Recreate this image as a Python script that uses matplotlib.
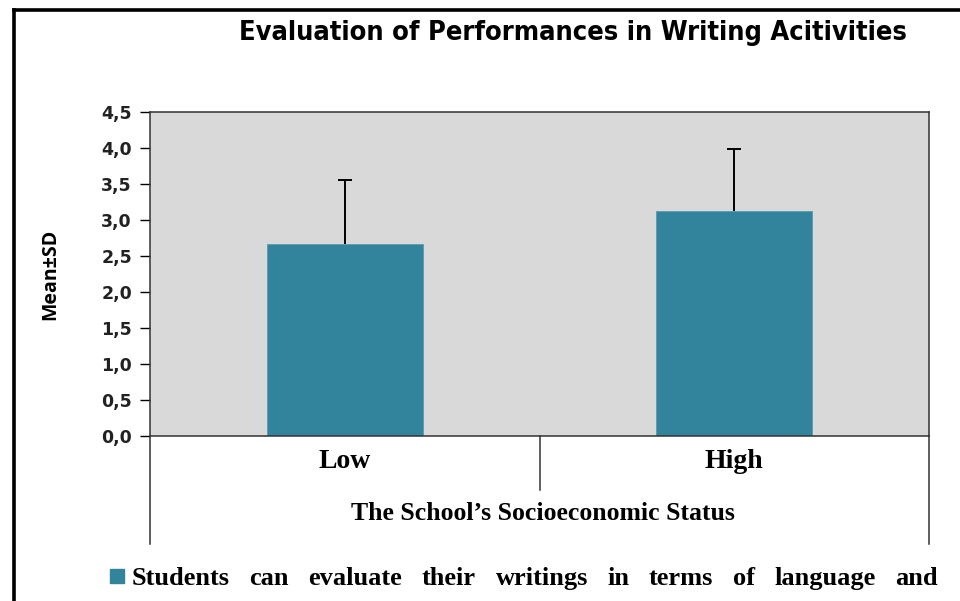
import matplotlib; matplotlib.use("Agg")
import matplotlib.pyplot as plt
import matplotlib.transforms as mtransforms
from matplotlib.patches import Rectangle
from matplotlib.lines import Line2D

categories = ["Low", "High"]
means = [2.67, 3.13]
sds = [0.88, 0.86]
yticks = [0.0, 0.5, 1.0, 1.5, 2.0, 2.5, 3.0, 3.5, 4.0, 4.5]
ytick_labels = ["0,0", "0,5", "1,0", "1,5", "2,0", "2,5", "3,0", "3,5", "4,0", "4,5"]
legend_words = "Students can evaluate their writings in terms of language and".split()

W, H = 960, 601
fig = plt.figure(figsize=(9.6, 6.01), dpi=100)
fig.patch.set_facecolor("white")

def fx(px): return px / W
def fy(py): return 1 - py / H

# outer frame lines (top and left)
fig.add_artist(Line2D([fx(14), 1], [fy(10), fy(10)], color="black", lw=2.6))
fig.add_artist(Line2D([fx(14), fx(14)], [0, fy(10)], color="black", lw=2.6))

axw, axh = fx(929) - fx(150), fy(112) - fy(436)
ax = fig.add_axes([fx(150), fy(436), axw, axh])
ax.set_facecolor("#d9d9d9")
teal = "#31849b"
x = list(range(len(categories)))
ax.bar(x, means, width=0.4, color=teal, edgecolor="#5a9db0", lw=0.6, zorder=2)
eb = ax.errorbar(x, means, yerr=[[0, 0], sds], fmt="none", ecolor="black",
                 elinewidth=1.4, capsize=5, capthick=1.4, zorder=3)
eb[1][0].set_visible(False)
ax.set_xlim(-0.5, 1.5)
ax.set_ylim(0, 4.5)
ax.set_yticks(yticks)
ax.set_yticklabels(ytick_labels, fontsize=12.5, fontweight="bold", family="DejaVu Sans", color="#222")
ax.tick_params(axis="y", direction="out", length=7, width=1, pad=6)
ax.set_xticks([])
for s in ax.spines.values():
    s.set_color("#333"); s.set_linewidth(1.1)
ax.set_ylabel("Mean±SD", fontsize=14, fontweight="bold", family="Open Sans")
ax.yaxis.set_label_coords((fx(60) - fx(150)) / axw, 0.5)

# category axis lines below plot
tr = mtransforms.blended_transform_factory(ax.transData, ax.transAxes)
depth = (544 - 436) / (436 - 112)
mid = (490 - 436) / (436 - 112)
for xv, d in [(-0.5, depth), (1.5, depth), (0.5, mid)]:
    ax.plot([xv, xv], [0, -d], transform=tr, color="#333", lw=1.1, clip_on=False)

serif = "Liberation Serif"
for xi, c in zip(x, categories):
    ax.text(xi, -(461 - 436) / (436 - 112), c, transform=tr, ha="center", va="center",
            fontsize=20, fontweight="bold", family=serif)
fig.text(fx(543), fy(513), "The School\u2019s Socioeconomic Status", ha="center", va="center",
         fontsize=18.5, fontweight="bold", family=serif)

fig.text(fx(573), fy(33), "Evaluation of Performances in Writing Acitivities", ha="center",
         va="center", fontsize=19.5, fontweight="bold", family="DejaVu Sans",
         fontstretch="condensed")

# legend: marker + justified text
fig.add_artist(Rectangle((fx(110), fy(583)), fx(14), fy(569) - fy(583), transform=fig.transFigure,
                         color=teal))
renderer = fig.canvas.get_renderer()
texts = [fig.text(0, fy(585), w, ha="left", va="baseline", fontsize=19, fontweight="bold",
                  family=serif) for w in legend_words]
widths = [t.get_window_extent(renderer).width for t in texts]
x0, x1 = 132, 938
gap = (x1 - x0 - sum(widths)) / (len(widths) - 1)
pos = x0
for t, w in zip(texts, widths):
    t.set_x(fx(pos))
    pos += w + gap

fig.savefig("out.png", dpi=100)
